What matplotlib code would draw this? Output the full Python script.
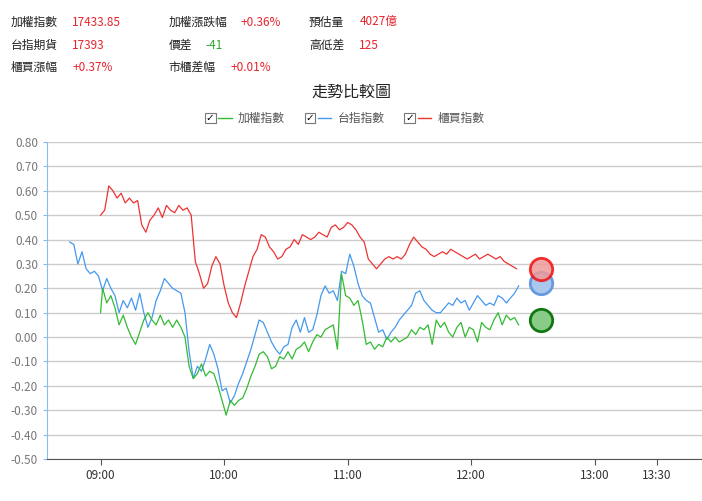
import matplotlib.pyplot as plt
from matplotlib.patches import Rectangle
from matplotlib.lines import Line2D

plt.rcParams['font.family'] = ['Noto Sans CJK TC', 'DejaVu Sans']

# minutes after 09:00
red_x = list(range(0, 204, 2))
red_y = [0.50, 0.52, 0.62, 0.60, 0.57, 0.59, 0.55, 0.57, 0.55, 0.56, 0.46, 0.43, 0.48, 0.50, 0.53,
         0.49, 0.54, 0.52, 0.51, 0.54, 0.52, 0.53, 0.50, 0.31, 0.26, 0.20, 0.22, 0.29, 0.33, 0.30,
         0.21, 0.14, 0.10, 0.08, 0.14, 0.21, 0.27, 0.33, 0.36, 0.42, 0.41, 0.37, 0.35, 0.32, 0.33,
         0.36, 0.37, 0.40, 0.38, 0.42, 0.41, 0.40, 0.41, 0.43, 0.42, 0.41, 0.45, 0.46, 0.44, 0.45,
         0.47, 0.46, 0.44, 0.41, 0.39, 0.32, 0.30, 0.28, 0.30, 0.32, 0.33, 0.32, 0.33, 0.32, 0.34,
         0.38, 0.41, 0.39, 0.37, 0.36, 0.34, 0.33, 0.34, 0.35, 0.34, 0.36, 0.35, 0.34, 0.33, 0.32,
         0.33, 0.34, 0.32, 0.33, 0.34, 0.33, 0.32, 0.33, 0.31, 0.30, 0.29, 0.28]
blue_x = list(range(-15, 205, 2))
blue_y = [0.39, 0.38, 0.30, 0.35, 0.28, 0.26, 0.27, 0.25, 0.19, 0.24, 0.20, 0.17, 0.10, 0.15, 0.12,
          0.16, 0.11, 0.18, 0.10, 0.04, 0.08, 0.15, 0.19, 0.24, 0.22, 0.20, 0.19, 0.18, 0.10, -0.06,
          -0.17, -0.12, -0.14, -0.09, -0.03, -0.07, -0.13, -0.22, -0.21, -0.27, -0.24, -0.19, -0.15, -0.10, -0.05,
          0.01, 0.07, 0.06, 0.02, -0.02, -0.05, -0.07, -0.04, -0.03, 0.04, 0.07, 0.02, 0.08, 0.02, 0.03,
          0.09, 0.17, 0.21, 0.18, 0.19, 0.15, 0.27, 0.26, 0.34, 0.29, 0.22, 0.17, 0.15, 0.14, 0.08,
          0.02, 0.03, -0.01, 0.02, 0.04, 0.07, 0.09, 0.11, 0.13, 0.18, 0.19, 0.15, 0.13, 0.11, 0.10,
          0.10, 0.12, 0.14, 0.13, 0.16, 0.14, 0.15, 0.11, 0.14, 0.17, 0.15, 0.13, 0.14, 0.13, 0.17,
          0.16, 0.14, 0.16, 0.18, 0.21]
green_x = [0] + list(range(1, 205, 2))
green_y = [0.10, 0.20, 0.14, 0.17, 0.12, 0.05, 0.09, 0.04, 0.00, -0.03, 0.02, 0.07, 0.10, 0.07, 0.05,
           0.09, 0.05, 0.07, 0.04, 0.07, 0.04, 0.00, -0.12, -0.17, -0.15, -0.11, -0.16, -0.14, -0.15, -0.20,
           -0.26, -0.32, -0.26, -0.28, -0.26, -0.25, -0.21, -0.16, -0.12, -0.07, -0.06, -0.08, -0.13, -0.12, -0.08,
           -0.09, -0.06, -0.09, -0.05, -0.04, -0.02, -0.06, -0.02, 0.01, 0.00, 0.03, 0.04, 0.05, -0.05, 0.26,
           0.17, 0.16, 0.13, 0.15, 0.07, -0.03, -0.02, -0.05, -0.03, -0.04, 0.00, -0.02, 0.00, -0.02, -0.01,
           0.00, 0.03, 0.01, 0.04, 0.03, 0.05, -0.03, 0.07, 0.04, 0.06, 0.02, 0.00, 0.04, 0.06, 0.00,
           0.04, 0.03, -0.02, 0.06, 0.04, 0.03, 0.07, 0.10, 0.05, 0.09, 0.07, 0.08, 0.05]
end_x = 214
end_vals = {'red': 0.28, 'blue': 0.22, 'green': 0.07}

x_ticks = [0, 60, 120, 180, 240, 270]
x_labels = ['09:00', '10:00', '11:00', '12:00', '13:00', '13:30']
y_ticks = [0.8, 0.7, 0.6, 0.5, 0.4, 0.3, 0.2, 0.1, 0.0, -0.1, -0.2, -0.3, -0.4, -0.5]

header = [
    (0.015, 0.955, '加權指數', '17433.85', '#e8242c'),
    (0.24, 0.955, '加權漲跌幅', '+0.36%', '#e8242c'),
    (0.44, 0.955, '預估量', '4027億', '#e8242c'),
    (0.015, 0.91, '台指期貨', '17393', '#e8242c'),
    (0.24, 0.91, '價差', '-41', '#2aa52a'),
    (0.44, 0.91, '高低差', '125', '#e8242c'),
    (0.015, 0.865, '櫃買漲幅', '+0.37%', '#e8242c'),
    (0.24, 0.865, '市櫃差幅', '+0.01%', '#e8242c'),
]
label_w = {'加權指數': 0.088, '加權漲跌幅': 0.103, '預估量': 0.072, '台指期貨': 0.088,
           '價差': 0.053, '高低差': 0.072, '櫃買漲幅': 0.088, '市櫃差幅': 0.088}

fig = plt.figure(figsize=(7.02, 5.01), dpi=100)
ax = fig.add_axes([47 / 702, 42 / 501, 655 / 702, 317 / 501])

for fx, fy, lab, val, col in header:
    fig.text(fx, fy, lab, fontsize=8.5, color='#222222', va='center')
    fig.text(fx + label_w[lab], fy, val, fontsize=8.5, color=col, va='center')

fig.text(0.50, 0.815, '走勢比較圖', fontsize=11.5, ha='center', va='center', color='#222222')

legend = [('加權指數', '#33bb33'), ('台指指數', '#4499ee'), ('櫃買指數', '#ee3333')]
lx = 0.292
for name, col in legend:
    fig.patches.append(Rectangle((lx, 0.754), 0.015, 0.021, transform=fig.transFigure,
                                 fill=False, edgecolor='#777777', lw=0.8))
    fig.text(lx + 0.0075, 0.764, '✓', fontsize=7.5, ha='center', va='center', color='black',
             family='DejaVu Sans', fontweight='bold')
    fig.lines.append(Line2D([lx + 0.019, lx + 0.038], [0.764, 0.764], transform=fig.transFigure,
                            color=col, lw=1))
    fig.text(lx + 0.047, 0.764, name, fontsize=8.5, va='center', color='#555555')
    lx += 0.142

ax.plot(red_x, red_y, color='#ee3333', lw=0.9)
ax.plot(blue_x, blue_y, color='#4499ee', lw=0.9)
ax.plot(green_x, green_y, color='#33bb33', lw=0.9)

ax.scatter([end_x], [end_vals['blue']], s=260, color='#aac8ee', edgecolors='#6699dd', linewidths=2, zorder=4)
ax.scatter([end_x], [end_vals['red']], s=260, color='#ee9999', alpha=0.85, edgecolors='#ee1111', linewidths=2, zorder=5)
ax.scatter([end_x], [end_vals['green']], s=260, color='#88cc88', edgecolors='#117711', linewidths=2, zorder=4)

ax.set_xlim(-26, 292)
ax.set_ylim(-0.5, 0.8)
ax.set_yticks(y_ticks)
ax.set_yticklabels([f'{v:.2f}' for v in y_ticks], fontsize=8.5, color='#777777')
ax.set_xticks(x_ticks)
ax.set_xticklabels(x_labels, fontsize=8.5, color='#333333')
ax.grid(axis='y', color='#cccccc', lw=1)
ax.set_axisbelow(True)
for s in ['top', 'right']:
    ax.spines[s].set_visible(False)
ax.spines['left'].set_color('#88bbee')
ax.spines['bottom'].set_color('#555555')
ax.tick_params(axis='y', length=3, color='#88bbee')
ax.tick_params(axis='x', length=4, color='#555555')

fig.savefig('out.png', dpi=100)
